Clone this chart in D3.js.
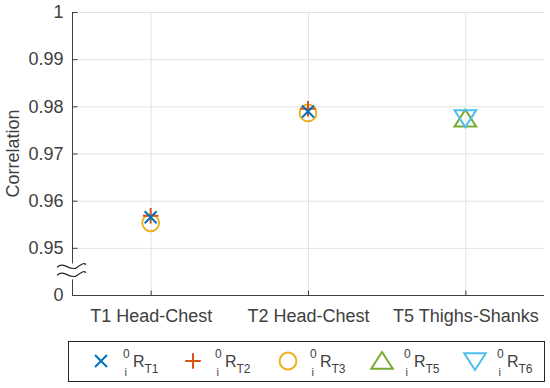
<!DOCTYPE html>
<html>
<head>
<meta charset="utf-8">
<script src="https://cdn.jsdelivr.net/npm/d3@7"></script>
<style>
  body { margin:0; background:#fff; }
  svg text { font-family: "Liberation Sans", Arial, sans-serif; fill:#404040; }
</style>
</head>
<body>
<div id="chart"></div>
<script>
// data
const categories = ["T1 Head-Chest", "T2 Head-Chest", "T5 Thighs-Shanks"];
const seriesNames = ["T1", "T2", "T3", "T5", "T6"];
const seriesColors = ["#0072BD", "#D95319", "#EDB120", "#77AC30", "#4DBEEE"];
const seriesShapes = ["x", "plus", "circle", "up", "down"];
// values per series: [category index, correlation]
const valuesT1 = [[0, 0.9565], [1, 0.9789]];
const valuesT2 = [[0, 0.9568], [1, 0.9795]];
const valuesT3 = [[0, 0.9553], [1, 0.9786]];
const valuesT5 = [[2, 0.9774]];
const valuesT6 = [[2, 0.9775]];
const seriesValues = [valuesT1, valuesT2, valuesT3, valuesT5, valuesT6];
const yTicks = [0.94, 0.95, 0.96, 0.97, 0.98, 0.99, 1];
const yTickLabels = ["0", "0.95", "0.96", "0.97", "0.98", "0.99", "1"];

const W = 550, H = 388;
const m = {left: 72, right: 6, top: 12, bottom: 93};

const svg = d3.select("#chart").append("svg")
  .attr("width", W).attr("height", H);

const x = d3.scaleLinear().domain([0.5, 3.5]).range([m.left, W - m.right]);
const y = d3.scaleLinear().domain([0.94, 1]).range([H - m.bottom, m.top]);

// grid
const grid = svg.append("g").attr("stroke", "#e3e3e3").attr("stroke-width", 1);
yTicks.forEach(t => {
  grid.append("line").attr("x1", x(0.5)).attr("x2", x(3.5))
    .attr("y1", y(t) + 0.5).attr("y2", y(t) + 0.5);
});
categories.forEach((c, i) => {
  grid.append("line").attr("x1", x(i + 1) + 0.5).attr("x2", x(i + 1) + 0.5)
    .attr("y1", y(0.94)).attr("y2", y(1));
});

// axes
const yAxis = d3.axisLeft(y).tickValues(yTicks)
  .tickFormat((d, i) => yTickLabels[i]).tickSize(-5).tickPadding(9);
const gy = svg.append("g").attr("transform", `translate(${m.left + 0.5},0)`).call(yAxis);
const xAxis = d3.axisBottom(x).tickValues([1, 2, 3])
  .tickFormat((d, i) => categories[i]).tickSize(-5).tickPadding(14);
const gx = svg.append("g").attr("transform", `translate(0,${y(0.94) + 0.5})`).call(xAxis);
[gx, gy].forEach(g => {
  g.select(".domain").attr("stroke", "#404040");
  g.selectAll(".tick line").attr("stroke", "#404040");
  g.selectAll(".tick text").style("font-size", "18px").attr("fill", "#404040");
});
gx.select(".domain").attr("d", `M${x(0.5)},0H${x(3.5)}`);
gy.select(".domain").attr("d", `M0,${y(0.94)}V${y(1)}`);

// axis break
const by = (y(0.95) + y(0.94)) / 2;
svg.append("rect").attr("x", m.left - 2).attr("y", by - 8).attr("width", 5).attr("height", 16).attr("fill", "#fff");
[-4, 4].forEach(dy => {
  svg.append("path")
    .attr("d", `M57,${by + dy} C64,${by + dy - 7} 70,${by + dy + 5} 77,${by + dy} S84,${by + dy - 4} 86,${by + dy - 3}`)
    .attr("fill", "none").attr("stroke", "#262626").attr("stroke-width", 1.2);
});

// y label
svg.append("text").attr("transform", `translate(19,${(y(0.94) + y(1)) / 2}) rotate(-90)`)
  .attr("text-anchor", "middle").style("font-size", "18px").text("Correlation");

function marker(g, shape, color, s) {
  const p = g.append("path").attr("fill", "none").attr("stroke", color).attr("stroke-width", 2);
  if (shape === "x") p.attr("d", `M${-s},${-s}L${s},${s}M${-s},${s}L${s},${-s}`);
  if (shape === "plus") p.attr("d", `M${-s * 1.3},0H${s * 1.3}M0,${-s * 1.3}V${s * 1.3}`);
  if (shape === "circle") p.attr("d", d3.arc()({innerRadius: 0, outerRadius: s * 1.4, startAngle: 0, endAngle: 2 * Math.PI}).replace(/L0,0Z|Z/g, ""));
  if (shape === "up") p.attr("d", `M0,${-s * 1.5}L${s * 1.8},${s * 1.3}L${-s * 1.8},${s * 1.3}Z`);
  if (shape === "down") p.attr("d", `M0,${s * 1.5}L${s * 1.8},${-s * 1.3}L${-s * 1.8},${-s * 1.3}Z`);
}

// points (circle first, x on top like the picture)
const order = [2, 3, 4, 1, 0];
order.forEach(si => {
  seriesValues[si].forEach(v => {
    const g = svg.append("g").attr("transform", `translate(${x(v[0] + 1)},${y(v[1])})`);
    marker(g, seriesShapes[si], seriesColors[si], 6);
  });
});

// legend
const lg = svg.append("g");
lg.append("rect").attr("x", 68.5).attr("y", 341.5).attr("width", 476).attr("height", 40)
  .attr("fill", "#fff").attr("stroke", "#262626").attr("stroke-width", 1);
const legX = [101, 193, 288, 382, 475];
seriesNames.forEach((n, i) => {
  const g = lg.append("g").attr("transform", `translate(${legX[i]},361)`);
  marker(g, seriesShapes[i], seriesColors[i], 6);
  const t = lg.append("g").attr("transform", `translate(${legX[i] + 22},361)`);
  t.append("text").attr("x", 0).attr("y", -3).style("font-size", "12px").text("0");
  t.append("text").attr("x", 1.5).attr("y", 15).style("font-size", "11px").text("i");
  t.append("text").attr("x", 10).attr("y", 6).style("font-size", "16px").text("R");
  t.append("text").attr("x", 21.5).attr("y", 12).style("font-size", "12px").text(n);
});
</script>
</body>
</html>
